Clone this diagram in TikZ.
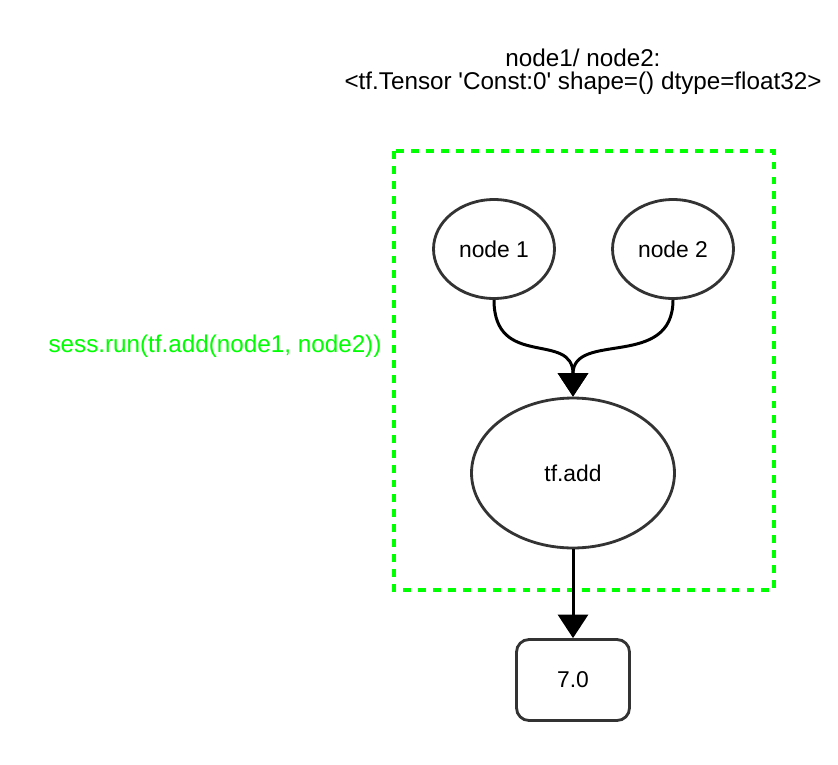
\documentclass[tikz,border=0pt]{standalone}
\usepackage{fontspec}
\setmainfont{Liberation Sans}
\usetikzlibrary{arrows.meta,calc,shapes.geometric,positioning}
\definecolor{runcolor}{RGB}{0,255,0}
\definecolor{linegray}{RGB}{51,51,51}
\begin{document}
\begin{tikzpicture}[x=0.02cm,y=-0.02cm,
  font=\fontsize{13}{13}\selectfont,
  big/.style={font=\fontsize{13.8}{13.2}\selectfont},
  op/.style={ellipse,draw=linegray,line width=1.6pt,inner sep=0pt},
  flow/.style={line width=1.7pt,-{Triangle[width=0.6cm,length=0.47cm]}}]
\useasboundingbox (0,0) rectangle (838,764);
\node[big,align=center] (title) at (583,72) {node1/ node2:\\<tf.Tensor {\textquotesingle}Const:0{\textquotesingle} shape=() dtype=float32>};
\draw[runcolor,line width=2.2pt,dash pattern=on 4.5pt off 4pt] (394,151) rectangle (774,590);
\node[big,text=runcolor] (call) at (215,346) {sess.run(tf.add(node1, node2))};
\node[op,minimum width=2.42cm,minimum height=1.98cm] (n1) at (494,249) {node 1};
\node[op,minimum width=2.42cm,minimum height=1.98cm] (n2) at (673,249) {node 2};
\node[op,minimum width=4.06cm,minimum height=3cm] (add) at (573,473) {tf.add};
\node[draw=linegray,line width=1.6pt,rounded corners=0.25cm,minimum width=2.26cm,minimum height=1.62cm] (res) at (573,680) {7.0};
\draw[flow] (n1.south) .. controls ($(n1.south)+(0,70)$) and ($(add.north)+(0,-66)$) .. (add.north);
\draw[flow] (n2.south) .. controls ($(n2.south)+(0,70)$) and ($(add.north)+(0,-66)$) .. (add.north);
\draw[flow] (add.south) -- (res.north);
\end{tikzpicture}
\end{document}
